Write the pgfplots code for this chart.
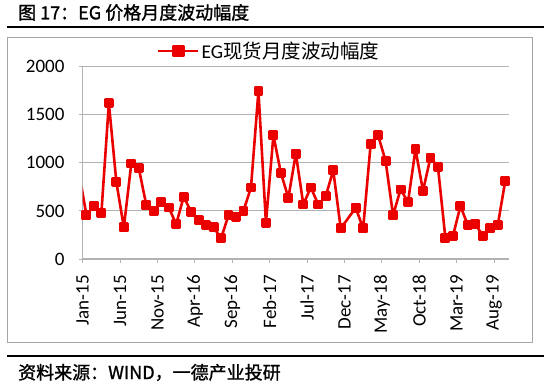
\documentclass[border=0pt]{standalone}
\usepackage{fontspec}
\setmainfont{Carlito}
\newfontfamily\cjk{Noto Sans CJK SC}
\newfontfamily\cjkb[FakeBold=1.2]{Noto Sans CJK SC}
\usepackage{pgfplots}
\pgfplotsset{compat=1.18}
\definecolor{eg}{RGB}{235,0,0}
\definecolor{gridc}{RGB}{178,178,178}
\definecolor{framec}{RGB}{165,165,165}
\begin{document}
\begin{tikzpicture}
\useasboundingbox (0,0) rectangle (550bp,388bp);
\node[anchor=west, inner sep=0pt, font=\cjkb\fontsize{18bp}{20bp}\selectfont] at (18bp,375.5bp) {图 17：EG 价格月度波动幅度};
\draw[line width=1.8bp] (7bp,361bp) -- (544bp,361bp);
\draw[framec, line width=1bp] (7.5bp,45bp) rectangle (532bp,350.5bp);
\draw[line width=1.8bp] (7bp,32bp) -- (544bp,32bp);
\node[anchor=west, inner sep=0pt, font=\cjkb\fontsize{18bp}{21bp}\selectfont] at (18bp,15.5bp) {资料来源：WIND，一德产业投研};
\begin{axis}[
 at={(82.7bp,129bp)}, anchor=south west, scale only axis,
 width=426.3bp, height=192.3bp,
 xmin=-0.5, xmax=56.5, ymin=0, ymax=2000,
 axis x line=bottom, axis y line=left,
 axis line style={draw=gridc, line width=1bp, -},
 ytick={0,500,1000,1500,2000},
 xtick={-0.5,4.5,...,54.5},
 xticklabels={Jan-15,Jun-15,Nov-15,Apr-16,Sep-16,Feb-17,Jul-17,Dec-17,May-18,Oct-18,Mar-19,Aug-19},
 ymajorgrids, major grid style={gridc, line width=1.1bp},
 tick align=outside, major tick length=4bp, tick style={gridc, line width=1bp},
 /pgf/number format/assume math mode=true,
 ticklabel style={font=\fontsize{19bp}{22bp}\selectfont},
 xticklabel style={rotate=90, anchor=east, inner sep=0pt},
 yticklabel style={anchor=east, inner sep=0pt},
 xticklabel shift=12bp,
 yticklabel shift=14bp,
 scaled y ticks=false,
 y tick label style={/pgf/number format/1000 sep={}},
 clip=true,
 legend style={draw=none, fill=none, at={(0.174,1.082)}, anchor=west, inner sep=0pt,
   font=\fontsize{19.5bp}{22bp}\selectfont},
 legend image code/.code={\draw[eg, line width=2.6bp] (0bp,0bp) -- (40bp,0bp); \fill[eg] (15bp,-5bp) rectangle (25bp,5bp);},
]
\addplot[eg, line width=2.6bp, forget plot] coordinates {(-1,900) (0,456)};
\addplot[eg, line width=2.6bp, line join=round, mark=square*, mark size=3.65bp, mark options={solid}] coordinates {
(0,456) (1,553) (2,480) (3,1621) (4,802) (5,329) (6,993) (7,947) (8,560) (9,501)
(10,594) (11,536) (12,363) (13,646) (14,491) (15,405) (16,353) (17,329) (18,215) (19,456)
(20,439) (21,501) (22,744) (23,1746) (24,377) (25,1286) (26,895) (27,636) (28,1096) (29,567)
(30,744) (31,567) (32,653) (33,923) (34,318) (36,532) (37,318) (38,1193) (39,1286)
(40,1020) (41,456) (42,723) (43,594) (44,1141) (45,709) (46,1055) (47,958) (48,215) (49,239)
(50,550) (51,353) (52,363) (53,242) (54,318) (55,353) (56,812)
};
\addlegendentry{EG{\cjk 现货月度波动幅度}}
\end{axis}
\end{tikzpicture}
\end{document}
